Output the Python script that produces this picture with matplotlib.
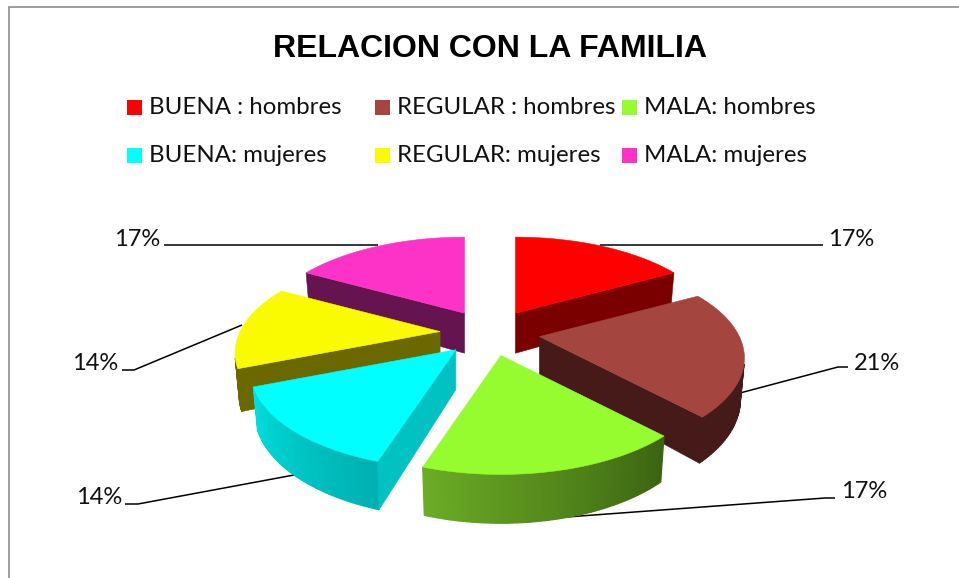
import matplotlib
matplotlib.use('Agg')
import numpy as np
import matplotlib.pyplot as plt
from matplotlib.patches import Polygon, Rectangle

# Chart values
labels = ['BUENA : hombres', 'REGULAR : hombres', 'MALA: hombres',
          'BUENA: mujeres', 'REGULAR: mujeres', 'MALA: mujeres']
values = [17, 21, 17, 14, 14, 17]

# Colours: top face, radial wall, rim left end, rim right end
top_colors = ['#FF0000', '#A5453F', '#97FC2F', '#00FFFF', '#FAFA00', '#FD33C8']
wall_colors = ['#7A0000', '#451A18', '#3C6312', '#00C2C2', '#6B6800', '#66144F']
rim_a = ['#7A0000', '#451A18', '#6BAC25', '#00DEDE', '#6B6800', '#66144F']
rim_b = ['#7A0000', '#451A18', '#3C6312', '#00B0B0', '#6B6800', '#66144F']

# Pie projection (pixel layout)
CX, CY = 490, 333
RX, RY = 200, 92.8
PERSP = 0.22
EXPLODE_X, EXPLODE_Y = 50, 23
DEPTH = 40


def project(u, v, off, bottom=False):
    s = 1 / (1 + v * PERSP)
    x = u * RX * s
    y = -v * RY * s
    if bottom:
        return CX + off[0] + x * 0.98, CY + off[1] + y + DEPTH * s ** 0.8
    return CX + off[0] + x, CY + off[1] + y


def area(pts):
    p = np.array(pts)
    x, y = p[:, 0], p[:, 1]
    return 0.5 * np.sum(x * np.roll(y, -1) - np.roll(x, -1) * y)


def hex_rgb(c):
    return np.array(matplotlib.colors.to_rgb(c))


fig = plt.figure(figsize=(9.59, 5.78), dpi=100)
ax = fig.add_axes([0, 0, 1, 1])
ax.set_xlim(0, 959)
ax.set_ylim(578, 0)
ax.axis('off')

# Frame of the chart area
ax.plot([9, 9, 959], [578, 7, 7], color='#8C8C8C', lw=1.2, solid_joinstyle='miter')

ax.text(490, 49, 'RELACION CON LA FAMILIA', family='Liberation Sans',
        fontweight='bold', fontsize=23, ha='center', va='center', color='black')

# Legend
legend_x = [127, 375, 622]
legend_y = [100, 148]
for i, lab in enumerate(labels):
    lx = legend_x[i % 3]
    ly = legend_y[i // 3]
    ax.add_patch(Rectangle((lx, ly), 15, 15, fc=top_colors[i], ec='none'))
    ax.text(lx + 22, ly + 8, lab, family='Lato', fontsize=17.3, ha='left',
            va='center', color='#111111')

# Slices
fractions = np.array(values) / sum(values)
starts = np.concatenate([[0], np.cumsum(fractions)[:-1]]) * 2 * np.pi
ends = np.cumsum(fractions) * 2 * np.pi

# back to front
order = [5, 0, 4, 1, 3, 2]
for i in order:
    a0, a1 = starts[i], ends[i]
    mid = (a0 + a1) / 2
    off = (EXPLODE_X * np.sin(mid), -EXPLODE_Y * np.cos(mid))
    t = np.linspace(a0, a1, 60)
    us = np.sin(t)
    vs = np.cos(t)

    # rim
    ca, cb = hex_rgb(rim_a[i]), hex_rgb(rim_b[i])
    for k in range(len(t) - 1):
        quad = [project(us[k], vs[k], off), project(us[k + 1], vs[k + 1], off),
                project(us[k + 1], vs[k + 1], off, True), project(us[k], vs[k], off, True)]
        if area(quad) > 0:
            continue
        f = k / (len(t) - 2)
        col = ca * f + cb * (1 - f)
        ax.add_patch(Polygon(quad, closed=True, fc=col, ec=col, lw=0.9))

    # radial walls, back faces culled
    for (u, v, sign) in [(us[0], vs[0], -1), (us[-1], vs[-1], 1)]:
        quad = [project(0, 0, off), project(u, v, off),
                project(u, v, off, True), project(0, 0, off, True)]
        if area(quad) * sign > 0:
            ax.add_patch(Polygon(quad, closed=True, fc=wall_colors[i],
                                 ec=wall_colors[i], lw=0.4))

    # top
    top = [project(0, 0, off)] + [project(a, b, off) for a, b in zip(us, vs)]
    ax.add_patch(Polygon(top, closed=True, fc=top_colors[i], ec=top_colors[i], lw=0.4))

# Leader lines and percent labels
leaders = [
    ([600, 823], [245, 245], 828, 240),
    ([740, 838, 848], [393, 367, 367], 854, 363),
    ([553, 825, 835], [518, 498, 498], 841, 492),
    ([294, 138, 125], [475, 504, 504], 76, 498),
    ([242, 134, 122], [325, 370, 370], 72, 364),
    ([378, 164], [245, 245], 114, 240),
]
for i, (lx, ly, tx, ty) in enumerate(leaders):
    ax.plot(lx, ly, color='black', lw=1.1, solid_capstyle='butt', zorder=0.5)
    ax.text(tx, ty, '{}%'.format(values[i]), family='Lato', fontsize=17,
            ha='left', va='center', color='#111111')

fig.savefig('out.png', dpi=100)
